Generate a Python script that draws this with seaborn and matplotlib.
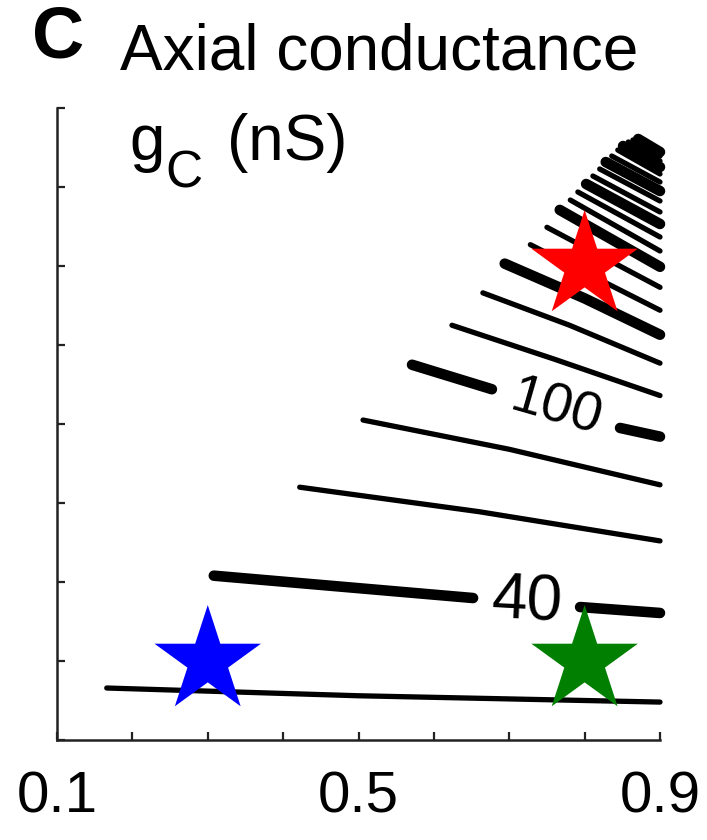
import numpy as np
import pandas as pd
import matplotlib
matplotlib.use("Agg")
import matplotlib.pyplot as plt
import seaborn as sns

sns.set_theme(style="white")
plt.rcParams['font.family'] = ['Liberation Sans', 'DejaVu Sans']
plt.rcParams['text.color'] = 'black'
plt.rcParams['xtick.color'] = 'black'
plt.rcParams['ytick.color'] = 'black'

# ---- data (x: 0.1..0.9, y: 0..8 tick units) ----
levels = [20, 40, 60, 80, 100, 120, 140, 160, 180, 200, 220,
          240, 260, 280, 300, 320, 340, 360, 380, 400, 420, 440, 460, 480]
# each contour: list of vertices; None marks a gap left for a label
contour_x = [
    [0.166, 0.50, 0.90],
    [0.308, 0.652, None, 0.794, 0.90],
    [0.422, 0.66, 0.90],
    [0.506, 0.70, 0.90],
    [0.571, 0.677, None, 0.847, 0.90],
    [0.624, 0.76, 0.90],
    [0.665, 0.78, 0.90],
    [0.694, 0.80, 0.90],
    [0.728, 0.90],
    [0.750, 0.90],
    [0.767, 0.90],
    [0.781, 0.90],
    [0.791, 0.90],
    [0.802, 0.90],
    [0.811, 0.90],
    [0.820, 0.90],
    [0.828, 0.90],
    [0.836, 0.90],
    [0.844, 0.90],
    [0.851, 0.90],
    [0.858, 0.90],
    [0.864, 0.90],
    [0.871, 0.90],
    [0.878, 0.897],
]
contour_y = [
    [0.658, 0.56, 0.480],
    [2.080, 1.797, None, 1.683, 1.608],
    [3.200, 2.89, 2.520],
    [4.050, 3.68, 3.230],
    [4.750, 4.440, None, 3.950, 3.840],
    [5.250, 4.82, 4.360],
    [5.660, 5.25, 4.770],
    [6.030, 5.59, 5.130],
    [6.270, 5.440],
    [6.490, 5.730],
    [6.710, 5.990],
    [6.835, 6.190],
    [6.937, 6.367],
    [7.038, 6.532],
    [7.139, 6.684],
    [7.228, 6.823],
    [7.316, 6.949],
    [7.392, 7.063],
    [7.468, 7.165],
    [7.519, 7.253],
    [7.570, 7.329],
    [7.595, 7.392],
    [7.608, 7.443],
    [7.595, 7.468],
]
label_levels = [40, 100]
label_rot = {40: -3, 100: -16}
label_size = {40: 46, 100: 40}

star_x = [0.3, 0.8, 0.8]
star_y = [1.0, 1.0, 6.0]
star_colors = ["#0000ff", "#007f00", "#ff0000"]

x_ticks = [0.1, 0.2, 0.3, 0.4, 0.5, 0.6, 0.7, 0.8, 0.9]
x_ticklabels = ["0.1", "", "", "", "0.5", "", "", "", "0.9"]
y_ticks = [0, 1, 2, 3, 4, 5, 6, 7, 8]

# ---- build long table of segments ----
rows = []
label_pos = {}
for lev, xs, ys in zip(levels, contour_x, contour_y):
    seg = 0
    for xv, yv in zip(xs, ys):
        if xv is None:
            seg += 1
            continue
        rows.append(dict(level=lev, unit=f"{lev}_{seg}", x=xv, y=yv,
                         thick=(lev - 40) % 60 == 0))
    if lev in label_levels:
        i = xs.index(None)
        label_pos[lev] = ((xs[i - 1] + xs[i + 1]) / 2, (ys[i - 1] + ys[i + 1]) / 2)
df = pd.DataFrame(rows)

fig = plt.figure(figsize=(7.07, 8.40), dpi=100)
ax = fig.add_axes([57 / 707, 1 - 740 / 840, 603 / 707, 632 / 840])

sns.lineplot(data=df, x="x", y="y", units="unit", estimator=None, sort=False,
             size="thick", sizes={True: 7.6, False: 3.8}, color="black",
             legend=False, ax=ax)
for ln in ax.get_lines():
    ln.set_solid_capstyle("round")
    ln.set_clip_on(False)

for lev, (lx, ly) in label_pos.items():
    ax.text(lx, ly, str(lev), fontsize=label_size[lev], ha="center", va="center",
            rotation=label_rot[lev], rotation_mode="anchor", color="black")

sns.scatterplot(x=star_x, y=star_y, hue=[0, 1, 2], palette=star_colors,
                marker="*", s=6500, linewidth=0, legend=False, ax=ax, zorder=5)

ax.set_xlim(0.1, 0.9)
ax.set_ylim(0, 8)
ax.set_xticks(x_ticks)
ax.set_xticklabels(x_ticklabels)
ax.set_yticks(y_ticks)
ax.set_yticklabels([])
ax.set_xlabel("")
ax.set_ylabel("")
sns.despine(ax=ax)
for s in ["left", "bottom"]:
    ax.spines[s].set_linewidth(1.8)
    ax.spines[s].set_color("#222222")
ax.tick_params(axis="both", which="major", direction="in", length=6, width=1.6,
               color="#222222", labelsize=42, pad=22, labelcolor="black",
               bottom=True, left=True, top=False, right=False)

fig.text(32 / 707, 1 - 57 / 840, "C", fontsize=52, fontweight="bold",
         ha="left", va="baseline")
fig.text(120 / 707, 1 - 70 / 840, "Axial conductance", fontsize=46,
         ha="left", va="baseline")
ax.text(0.1955, 7.34, "g", fontsize=46, ha="left", va="baseline")
ax.text(0.2433, 7.0, "C", fontsize=37, ha="left", va="baseline")
ax.text(0.3255, 7.34, "(nS)", fontsize=46, ha="left", va="baseline")

fig.savefig("out.png", dpi=100, facecolor="white")
